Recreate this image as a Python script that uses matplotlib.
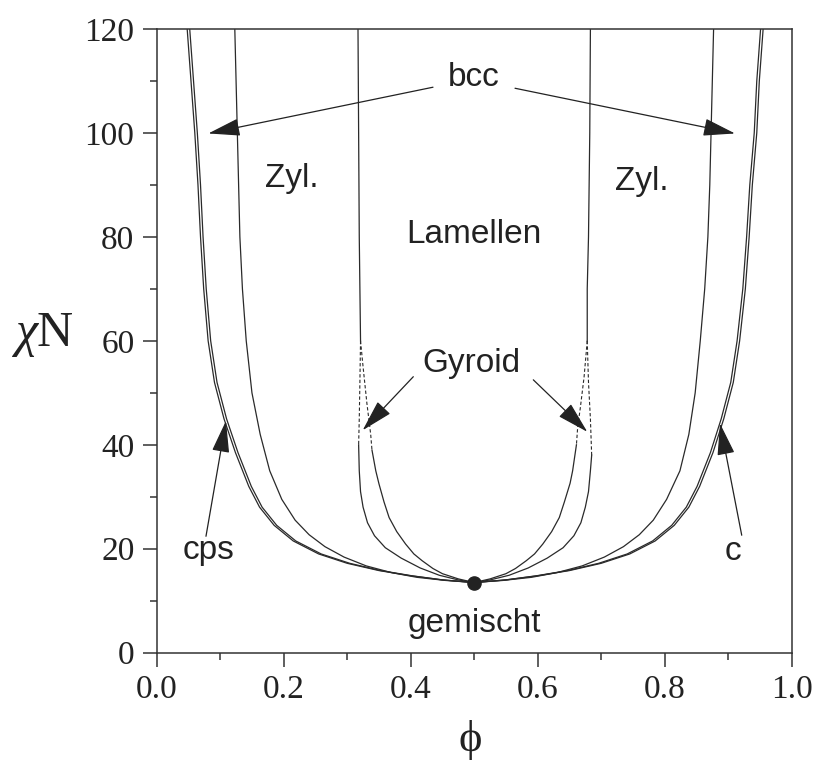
import matplotlib
matplotlib.use("Agg")
import matplotlib.pyplot as plt
from matplotlib.ticker import MultipleLocator, FormatStrFormatter

plt.rcParams['mathtext.fontset'] = 'custom'
plt.rcParams['mathtext.rm'] = 'Liberation Serif'
plt.rcParams['mathtext.it'] = 'Liberation Serif:italic'

# ---------------- data ----------------
# outer boundary: disordered / close-packed spheres
phi_A = [0.048, 0.054, 0.060, 0.065, 0.069, 0.074, 0.081, 0.091, 0.106, 0.124, 0.145, 0.162,
         0.185, 0.215, 0.255, 0.300, 0.350, 0.400, 0.450, 0.500,
         0.550, 0.600, 0.650, 0.700, 0.745, 0.785, 0.815, 0.838, 0.855, 0.876, 0.893, 0.908,
         0.918, 0.927, 0.933, 0.938, 0.945, 0.949, 0.955]
chi_A = [120, 110, 100, 90, 80, 70, 60, 52, 45, 38.5, 32, 28,
         24.5, 21.5, 19.0, 17.2, 15.8, 14.8, 14.0, 13.5,
         14.0, 14.8, 15.8, 17.2, 19.0, 21.5, 24.5, 28, 32, 38.5, 45, 52,
         60, 70, 80, 90, 100, 110, 120]
# cps / bcc boundary
phi_B = [0.052, 0.058, 0.064, 0.069, 0.073, 0.078, 0.085, 0.095, 0.110, 0.128, 0.149, 0.166,
         0.189, 0.219, 0.259, 0.304, 0.353, 0.402, 0.451, 0.500,
         0.549, 0.598, 0.647, 0.696, 0.741, 0.781, 0.811, 0.834, 0.851, 0.872, 0.889, 0.904,
         0.914, 0.923, 0.929, 0.934, 0.941, 0.945, 0.951]
chi_B = chi_A
# bcc / cylinder boundary
phi_C = [0.123, 0.125, 0.127, 0.129, 0.131, 0.135, 0.141, 0.150, 0.163, 0.178, 0.197, 0.218,
         0.240, 0.265, 0.295, 0.330, 0.370, 0.410, 0.455, 0.500,
         0.545, 0.590, 0.630, 0.670, 0.705, 0.735, 0.760, 0.782, 0.803, 0.824, 0.838, 0.848,
         0.856, 0.863, 0.868, 0.871, 0.873, 0.875, 0.877]
chi_C = [120, 110, 100, 90, 80, 70, 60, 50, 42, 35, 29.5, 25.5,
         22.7, 20.4, 18.4, 16.7, 15.4, 14.5, 13.9, 13.5,
         13.9, 14.5, 15.4, 16.7, 18.4, 20.4, 22.7, 25.5, 29.5, 35, 42, 50,
         60, 70, 80, 90, 100, 110, 120]
# cylinder / lamellae boundary above the gyroid region
phi_DL_top = [0.317, 0.318, 0.319, 0.320, 0.321]
chi_DL_top = [120, 100, 80, 70, 60]
phi_DR_top = [0.683, 0.682, 0.680, 0.678, 0.678]
chi_DR_top = [120, 100, 80, 70, 60]
# gyroid boundaries, dashed part
phi_G1L_d = [0.321, 0.320, 0.319, 0.318]
chi_G1L_d = [60, 52, 45, 40]
phi_G2L_d = [0.321, 0.325, 0.331, 0.337, 0.339]
chi_G2L_d = [60, 55, 48, 42, 39]
phi_G1R_d = [0.678, 0.680, 0.683, 0.685]
chi_G1R_d = [60, 52, 45, 38]
phi_G2R_d = [0.678, 0.673, 0.667, 0.663, 0.661]
chi_G2R_d = [60, 53, 47, 43.5, 40]
# gyroid boundaries, solid part
phi_G1L = [0.318, 0.319, 0.321, 0.325, 0.332, 0.343, 0.360, 0.385, 0.415, 0.445, 0.475, 0.500]
chi_G1L = [40, 35, 31, 28, 25, 22.5, 20.2, 18.2, 16.3, 14.9, 14.0, 13.5]
phi_G2L = [0.339, 0.345, 0.350, 0.358, 0.366, 0.378, 0.392, 0.405, 0.418, 0.435, 0.450, 0.475, 0.500]
chi_G2L = [39, 35, 32.5, 29, 26, 23.3, 20.9, 19.0, 17.7, 16.2, 15.2, 14.2, 13.5]
phi_G1R = [0.685, 0.683, 0.680, 0.675, 0.668, 0.657, 0.640, 0.615, 0.585, 0.555, 0.525, 0.500]
chi_G1R = [38, 35, 31, 28, 25, 22.5, 20.2, 18.2, 16.3, 14.9, 14.0, 13.5]
phi_G2R = [0.661, 0.655, 0.651, 0.642, 0.634, 0.622, 0.608, 0.595, 0.582, 0.565, 0.550, 0.525, 0.500]
chi_G2R = [40, 35, 32.6, 29, 26, 23.3, 20.9, 19.0, 17.7, 16.2, 15.2, 14.2, 13.5]

crit_phi, crit_chi = 0.5, 13.5

x_ticks = [0.0, 0.2, 0.4, 0.6, 0.8, 1.0]
y_ticks = [0, 20, 40, 60, 80, 100, 120]

# ---------------- figure ----------------
fig = plt.figure(figsize=(8.15, 7.64), dpi=100)
ax = fig.add_axes([156.7/815, 1-652.7/764, 635/815, 623.7/764])

lc = '#2a2a2a'
lw = 0.9
for px, cy in [(phi_A, chi_A), (phi_B, chi_B), (phi_C, chi_C),
               (phi_DL_top, chi_DL_top), (phi_DR_top, chi_DR_top),
               (phi_G1L, chi_G1L), (phi_G2L, chi_G2L), (phi_G1R, chi_G1R), (phi_G2R, chi_G2R)]:
    ax.plot(px, cy, color=lc, lw=lw, solid_joinstyle='round')
for px, cy in [(phi_G1L_d, chi_G1L_d), (phi_G2L_d, chi_G2L_d),
               (phi_G1R_d, chi_G1R_d), (phi_G2R_d, chi_G2R_d)]:
    ax.plot(px, cy, color=lc, lw=0.8, ls=(0, (3, 2)))

ax.plot([crit_phi], [crit_chi], 'o', color='#222222', ms=9.5, zorder=5)

ax.set_xlim(0, 1)
ax.set_ylim(0, 120)
ax.set_xticks(x_ticks)
ax.set_yticks(y_ticks)
ax.xaxis.set_minor_locator(MultipleLocator(0.1))
ax.yaxis.set_minor_locator(MultipleLocator(10))
ax.xaxis.set_major_formatter(FormatStrFormatter('%.1f'))
ax.tick_params(which='both', direction='out', top=False, right=False, color='#333333', width=1.1)
ax.tick_params(which='major', length=10, labelsize=24, pad=6)
ax.tick_params(which='minor', length=5)
for lab in ax.get_xticklabels() + ax.get_yticklabels():
    lab.set_fontfamily('Liberation Serif')
    lab.set_color('#222222')
for s in ax.spines.values():
    s.set_color('#333333')
    s.set_linewidth(1.1)

ax.set_xlabel('\u03d5', fontsize=32, family=['Liberation Serif', 'DejaVu Serif'], color='#222222')
ax.xaxis.set_label_coords(0.493, -0.14)
ax.xaxis.label.set_va('center')
ax.set_ylabel(r'$\chi\mathrm{N}$', fontsize=36, rotation=0, color='#222222')
ax.yaxis.set_label_coords(-0.18, 0.509)
ax.yaxis.label.set_va('center')
ax.yaxis.label.set_ha('center')

tk = dict(fontsize=24, family='Liberation Sans', color='#222222')
ax.text(0.5, 109.0, 'bcc', ha='center', va='baseline', **tk)
ax.text(0.1706, 89.6, 'Zyl.', ha='left', va='baseline', **tk)
ax.text(0.7218, 89.0, 'Zyl.', ha='left', va='baseline', **tk)
ax.text(0.5, 78.9, 'Lamellen', ha='center', va='baseline', **tk)
ax.text(0.495, 54.0, 'Gyroid', ha='center', va='baseline', **tk)
ax.text(0.0824, 18.0, 'cps', ha='center', va='baseline', **tk)
ax.text(0.9076, 17.8, 'c', ha='center', va='baseline', **tk)
ax.text(0.5, 4.0, 'gemischt', ha='center', va='baseline', **tk)

ap = dict(arrowstyle='-|>,head_length=2.0,head_width=0.55', color='#222222', lw=0.9,
          shrinkA=0, shrinkB=0, mutation_scale=10)
arrows = [((0.4351, 108.8), (0.0813, 99.9)),
          ((0.5643, 108.6), (0.9107, 99.9)),
          ((0.4041, 53.1), (0.3244, 42.8)),
          ((0.5931, 52.5), (0.6781, 42.5)),
          ((0.0776, 22.4), (0.1091, 44.6)),
          ((0.9213, 22.6), (0.8871, 44.1))]
for tail, tip in arrows:
    ax.annotate('', xy=tip, xytext=tail, arrowprops=ap)

fig.savefig('out.png', dpi=100)
